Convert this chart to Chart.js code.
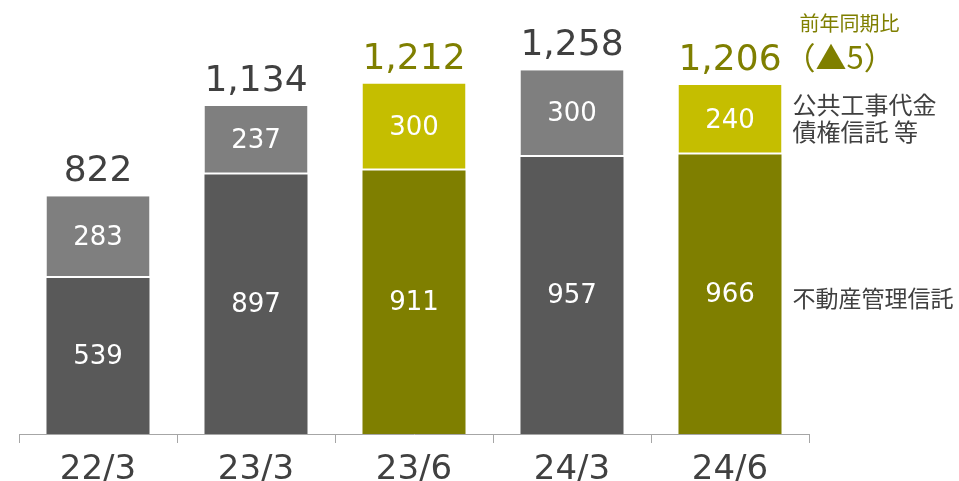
<!DOCTYPE html>
<html>
<head>
<meta charset="utf-8">
<script src="https://cdn.jsdelivr.net/npm/chart.js@4/dist/chart.umd.min.js"></script>
<style>
html,body{margin:0;padding:0;background:#fff;}
#wrap{width:959px;height:481px;position:relative;}
</style>
</head>
<body>
<div id="wrap"><canvas id="c"></canvas></div>
<script>
const categories = ['22/3', '23/3', '23/6', '24/3', '24/6'];
const realEstateTrust = [539, 897, 911, 957, 966];     // 不動産管理信託
const publicWorksTrust = [283, 237, 300, 300, 240];    // 公共工事代金債権信託 等
const totals = ['822', '1,134', '1,212', '1,258', '1,206'];
const highlight = [false, false, true, false, true];
const yoyTitle = '前年同期比';
const yoyValue = '（▲5）';
const labelTop = ['公共工事代金', '債権信託 等'];
const labelBottom = '不動産管理信託';

const DARK = '#595959', MID = '#7f7f7f', OLIVE = '#7f7f00', YELLOW = '#c5be00';
const TEXT = '#404040';
const NUM_FONT = '"DejaVu Sans", sans-serif';
const CJK_FONT = '"Noto Sans CJK JP", sans-serif';

const labelPlugin = {
  id: 'labels',
  afterDraw(chart) {
    const ctx = chart.ctx;
    const m0 = chart.getDatasetMeta(0), m1 = chart.getDatasetMeta(1);
    const xScale = chart.scales.x;
    ctx.save();
    // category labels
    ctx.textAlign = 'center';
    ctx.textBaseline = 'alphabetic';
    ctx.fillStyle = TEXT;
    ctx.font = '34px ' + NUM_FONT;
    categories.forEach((c, i) => {
      ctx.fillText(c, xScale.getPixelForTick(i), chart.chartArea.bottom + 45);
    });
    // segment values
    ctx.textBaseline = 'middle';
    ctx.fillStyle = '#fff';
    ctx.font = '26px ' + NUM_FONT;
    m0.data.forEach((b, i) => {
      ctx.fillText(String(realEstateTrust[i]), b.x, (b.y + b.base) / 2 + 1);
    });
    m1.data.forEach((b, i) => {
      ctx.fillText(String(publicWorksTrust[i]), b.x, (b.y + b.base) / 2 + 1);
    });
    // totals
    ctx.font = '36px ' + NUM_FONT;
    ctx.textBaseline = 'alphabetic';
    m1.data.forEach((b, i) => {
      ctx.fillStyle = highlight[i] ? OLIVE : TEXT;
      ctx.fillText(totals[i], b.x, b.y - 15);
    });
    const last = m1.data.length - 1;
    const lb = m1.data[last], lb0 = m0.data[last];
    const rightX = lb.x + lb.width / 2 + 9;
    // YoY
    ctx.textAlign = 'left';
    ctx.fillStyle = OLIVE;
    ctx.font = '31px ' + CJK_FONT;
    ctx.fillText(yoyValue, rightX - 6, lb.y - 16);
    ctx.font = '20px ' + CJK_FONT;
    ctx.textBaseline = 'middle';
    ctx.fillText(yoyTitle, rightX + 9, lb.y - 62);
    // series labels
    ctx.fillStyle = TEXT;
    ctx.font = '24px ' + CJK_FONT;
    const midTop = (lb.y + lb.base) / 2;
    ctx.fillText(labelTop[0], rightX + 2, midTop - 15);
    ctx.fillText(labelTop[1], rightX + 2, midTop + 12);
    ctx.font = '23px ' + CJK_FONT;
    ctx.fillText(labelBottom, rightX + 2, (lb0.y + lb0.base) / 2 + 4);
    ctx.restore();
  }
};

new Chart(document.getElementById('c'), {
  type: 'bar',
  data: {
    labels: categories,
    datasets: [
      {
        label: labelBottom,
        data: realEstateTrust,
        backgroundColor: highlight.map(h => h ? OLIVE : DARK),
        borderWidth: 0,
        categoryPercentage: 0.652,
        barPercentage: 1.0
      },
      {
        label: labelTop.join(''),
        data: publicWorksTrust,
        backgroundColor: highlight.map(h => h ? YELLOW : MID),
        borderColor: '#ffffff',
        borderWidth: {bottom: 2, top: 0, left: 0, right: 0},
        borderSkipped: false,
        categoryPercentage: 0.652,
        barPercentage: 1.0
      }
    ]
  },
  options: {
    responsive: true,
    maintainAspectRatio: false,
    devicePixelRatio: 1,
    animation: false,
    layout: {padding: {left: 19, right: 150, top: 0, bottom: 38}},
    plugins: {legend: {display: false}, tooltip: {enabled: false}},
    scales: {
      x: {
        stacked: true,
        offset: true,
        grid: {display: true, drawOnChartArea: false, drawTicks: true, tickLength: 9, color: '#a6a6a6', offset: true},
        border: {display: true, color: '#a6a6a6', width: 1},
        ticks: {display: false}
      },
      y: {
        stacked: true,
        display: false,
        min: 0,
        max: 1500
      }
    }
  },
  plugins: [labelPlugin]
});
</script>
</body>
</html>
